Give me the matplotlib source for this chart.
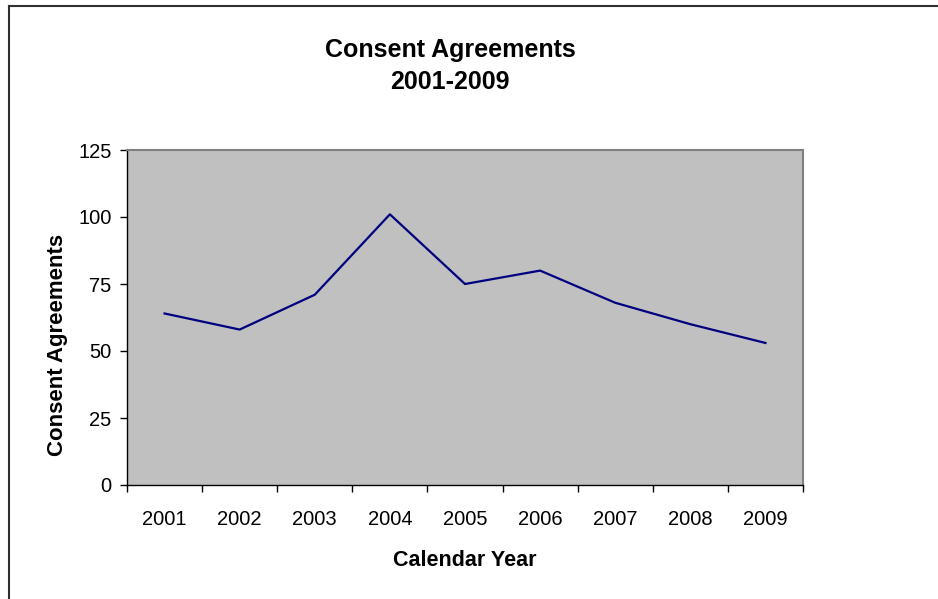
import numpy as np
import matplotlib
matplotlib.use("Agg")
import matplotlib.pyplot as plt
from matplotlib.lines import Line2D

plt.rcParams['font.family'] = ['Liberation Sans', 'DejaVu Sans']

years = ['2001', '2002', '2003', '2004', '2005', '2006', '2007', '2008', '2009']
agreements = [64, 58, 71, 101, 75, 80, 68, 60, 53]
y_ticks = [0, 25, 50, 75, 100, 125]

W, H = 938, 599
fig = plt.figure(figsize=(W / 100, H / 100), dpi=100)

# plot area in pixels
left, right, top, bottom = 127, 803, 150, 485
ax = fig.add_axes([left / W, (H - bottom) / H, (right - left) / W, (bottom - top) / H])
ax.set_facecolor('#c0c0c0')

x = np.arange(len(years))
ax.plot(x, agreements, color='#000080', lw=1.6)

ax.set_xlim(-0.5, len(years) - 0.5)
ax.set_ylim(0, 125)
ax.set_yticks(y_ticks)
ax.set_yticklabels([str(v) for v in y_ticks])

# category ticks sit between the categories, labels at centres
ax.set_xticks(np.arange(-0.5, len(years), 1.0))
ax.set_xticklabels([])
ax.set_xticks(x, minor=True)
ax.set_xticklabels(years, minor=True)
ax.tick_params(axis='x', which='major', length=5, width=1, color='black', direction='out')
ax.tick_params(axis='x', which='minor', length=0, pad=18, labelsize=14.5)
ax.tick_params(axis='y', length=5, width=1, color='black', direction='out', labelsize=14.5, pad=6)

for s in ['top', 'right']:
    ax.spines[s].set_color('#808080')
    ax.spines[s].set_linewidth(1.5)
for s in ['left', 'bottom']:
    ax.spines[s].set_color('black')
    ax.spines[s].set_linewidth(1)

ax.set_xlabel('Calendar Year', fontsize=15.5, fontweight='bold', labelpad=15)

# y label sits a little below the plot centre in the original
fig.text(57 / W, 1 - 345 / H, 'Consent Agreements', rotation=90, ha='center', va='center',
         fontsize=16, fontweight='bold')

fig.text(450 / W, 1 - 50 / H, 'Consent Agreements', ha='center', va='center',
         fontsize=18, fontweight='bold')
fig.text(450 / W, 1 - 82 / H, '2001-2009', ha='center', va='center',
         fontsize=18, fontweight='bold')

# outer chart frame (left and top edges visible)
fig.add_artist(Line2D([8.5 / W, 8.5 / W], [0, 1 - 5.5 / H], transform=fig.transFigure,
                      color='#303030', lw=1.5))
fig.add_artist(Line2D([8.5 / W, 1], [1 - 5.5 / H, 1 - 5.5 / H], transform=fig.transFigure,
                      color='#303030', lw=1.5))

fig.savefig('out.png', dpi=100)
